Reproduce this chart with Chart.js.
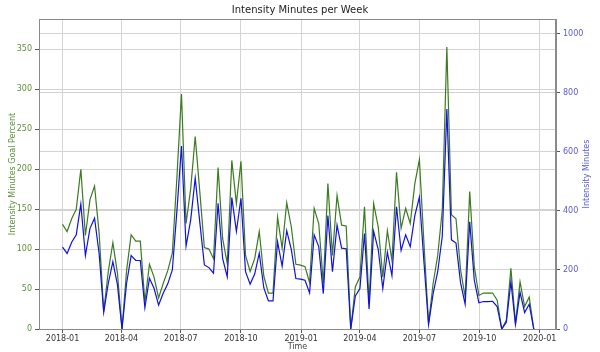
<!DOCTYPE html>
<html>
<head>
<meta charset="utf-8">
<script src="https://cdn.jsdelivr.net/npm/chart.js@4/dist/chart.umd.min.js"></script>
<style>
html, body { margin: 0; background: #fff; }
#wrap { width: 600px; height: 352px; }
</style>
</head>
<body>
<div id="wrap"><canvas id="intensity"></canvas></div>
<script>
// one value per week, first week starts 2018-01-01
const firstWeek = '2018-01-01';
const goalPercent = [131, 122, 138, 150, 200, 117, 162, 179, 120, 22,
    72, 108, 70, 0, 73, 118, 110, 110, 34, 81,
    65, 39, 57, 73, 95, 190, 294, 132, 175, 241,
    172, 102, 100, 88, 202, 113, 82, 211, 157, 210,
    92, 72, 88, 122, 66, 45, 45, 140, 101, 158,
    128, 81, 80, 78, 58, 151, 132, 57, 182, 92,
    167, 130, 129, 0, 53, 65, 153, 32, 157, 128,
    65, 123, 86, 196, 126, 151, 132, 182, 212, 107,
    7, 57, 92, 149, 353, 143, 138, 74, 40, 172,
    78, 42, 45, 45, 45, 36, 0, 11, 76, 7,
    59, 28, 40, 0];
const minutes = [277, 256, 294, 319, 423, 249, 341, 375, 255, 56,
    155, 228, 150, 0, 155, 249, 232, 232, 72, 172,
    138, 81, 121, 153, 200, 400, 620, 281, 368, 511,
    362, 217, 208, 189, 426, 238, 177, 445, 331, 443,
    194, 152, 186, 257, 139, 95, 95, 295, 213, 333,
    270, 171, 169, 165, 122, 319, 279, 120, 384, 194,
    352, 274, 272, 0, 112, 137, 323, 68, 331, 270,
    137, 260, 181, 414, 266, 319, 279, 384, 447, 226,
    15, 120, 194, 314, 745, 302, 291, 156, 84, 363,
    165, 89, 93, 93, 94, 76, 0, 23, 160, 15,
    124, 56, 84, 0];
const dateTicks = ['2018-01', '2018-04', '2018-07', '2018-10', '2019-01',
    '2019-04', '2019-07', '2019-10', '2020-01'];
const goalTicks = [0, 50, 100, 150, 200, 250, 300, 350];
const minuteTicks = [0, 200, 400, 600, 800, 1000];

const DAY = 86400000;
function dayOf(str) {
    return (Date.parse(str) - Date.parse(firstWeek)) / DAY;
}
const tickDays = dateTicks.map((t) => dayOf(t + '-01'));

const green = '#3b7a1e';
const blue = '#1010e0';
const greenText = '#5e8f3a';
const blueText = '#5a5acc';
const gridColor = '#d3d3d3';
const font = { family: 'DejaVu Sans', size: 8 };

function points(values) {
    return values.map((v, i) => ({ x: i * 7, y: v }));
}

// top spine + right axis title reading bottom-to-top
const frame = {
    id: 'frame',
    afterDraw(chart) {
        const a = chart.chartArea;
        const ctx = chart.ctx;
        ctx.save();
        ctx.strokeStyle = '#8a8a8a';
        ctx.lineWidth = 1;
        ctx.strokeRect(a.left + 0.5, a.top + 0.5, a.right - a.left - 1, a.bottom - a.top);
        ctx.translate(587, (a.top + a.bottom) / 2);
        ctx.rotate(-Math.PI / 2);
        ctx.fillStyle = blueText;
        ctx.font = '8px "DejaVu Sans"';
        ctx.textAlign = 'center';
        ctx.textBaseline = 'middle';
        ctx.fillText('Intensity Minutes', 0, 0);
        ctx.restore();
    },
};

const ctx = document.getElementById('intensity');
const myChart = new Chart(ctx, {
    type: 'line',
    data: {
        datasets: [
            {
                label: 'Intensity Minutes Goal Percent',
                data: points(goalPercent),
                borderColor: green,
                borderWidth: 1.2,
                pointRadius: 0,
                yAxisID: 'y',
                order: 2,
            },
            {
                label: 'Intensity Minutes',
                data: points(minutes),
                borderColor: blue,
                borderWidth: 1.2,
                pointRadius: 0,
                yAxisID: 'y2',
                order: 1,
            },
        ],
    },
    plugins: [frame],
    options: {
        responsive: true,
        maintainAspectRatio: false,
        devicePixelRatio: 1,
        animation: false,
        layout: { padding: 0 },
        plugins: {
            legend: { display: false },
            tooltip: { enabled: false },
            title: {
                display: true,
                text: 'Intensity Minutes per Week',
                color: '#222',
                font: { family: 'DejaVu Sans', size: 10, weight: 'normal' },
                padding: { top: 4, bottom: 3 },
            },
        },
        scales: {
            x: {
                type: 'linear',
                min: -36,
                max: 755,
                afterBuildTicks: (scale) => {
                    scale.ticks = tickDays.map((d) => ({ value: d }));
                },
                afterFit: (scale) => {
                    scale.height = 23;
                },
                ticks: {
                    color: '#333',
                    font: font,
                    padding: 1,
                    maxRotation: 0,
                    autoSkip: false,
                    callback: (value) => dateTicks[tickDays.indexOf(value)],
                },
                grid: { color: gridColor, tickColor: '#555', tickLength: 4 },
                border: { color: '#8a8a8a' },
                title: {
                    display: true,
                    text: 'Time',
                    color: '#444',
                    font: font,
                    padding: 0,
                },
            },
            y: {
                position: 'left',
                min: 0,
                max: 388,
                afterBuildTicks: (scale) => {
                    scale.ticks = goalTicks.map((v) => ({ value: v }));
                },
                afterFit: (scale) => {
                    scale.width = 39;
                },
                ticks: { color: greenText, font: font, padding: 3 },
                grid: { color: gridColor, tickColor: '#555', tickLength: 4 },
                border: { color: '#8a8a8a' },
                title: {
                    display: true,
                    text: 'Intensity Minutes Goal Percent',
                    color: greenText,
                    font: font,
                    padding: { top: 8, bottom: 0 },
                },
            },
            y2: {
                position: 'right',
                min: 0,
                max: 1050,
                afterBuildTicks: (scale) => {
                    scale.ticks = minuteTicks.map((v) => ({ value: v }));
                },
                afterFit: (scale) => {
                    scale.width = 44;
                },
                ticks: {
                    color: blueText,
                    font: font,
                    padding: 3,
                    callback: (value) => String(value),
                },
                grid: { color: gridColor, tickColor: '#555', tickLength: 4 },
                border: { color: '#8a8a8a' },
            },
        },
    },
});
</script>
</body>
</html>
